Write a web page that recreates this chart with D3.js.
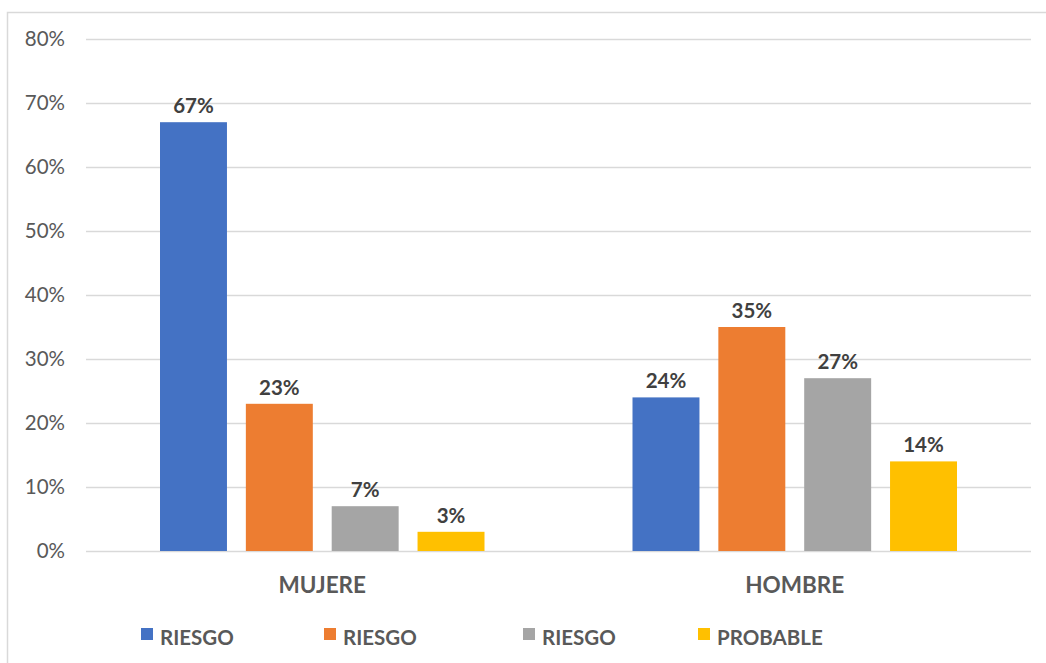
<!DOCTYPE html>
<html>
<head>
<meta charset="utf-8">
<script src="https://cdn.jsdelivr.net/npm/d3@7"></script>
<style>
  body { margin: 0; background: #fff; }
  text { font-family: Lato, "Open Sans", sans-serif; }
</style>
</head>
<body>
<div id="chart"></div>
<script>
// data
const categories = ["MUJERE", "HOMBRE"]
const seriesNames = ["RIESGO", "RIESGO", "RIESGO", "PROBABLE"]
const seriesColors = ["#4472C4", "#ED7D31", "#A5A5A5", "#FFC000"]
const mujereValues = [0.67, 0.23, 0.07, 0.03]
const hombreValues = [0.24, 0.35, 0.27, 0.14]
const yTicks = [0, 0.1, 0.2, 0.3, 0.4, 0.5, 0.6, 0.7, 0.8]

const valuesByCat = [mujereValues, hombreValues]

let W = 1046, H = 663
let margin = { top: 39, right: 15, bottom: 112, left: 86 }
let width = W - margin.left - margin.right,
    height = H - margin.top - margin.bottom

let svg = d3.select("#chart").append("svg")
    .attr("width", W)
    .attr("height", H)

// outer chart border (only top and left show in the picture)
svg.append("rect")
    .attr("x", 7.5)
    .attr("y", 12.5)
    .attr("width", W + 10)
    .attr("height", H + 10)
    .attr("fill", "none")
    .attr("stroke", "#d9d9d9")
    .attr("stroke-width", 1.5)

let g = svg.append("g")
    .attr("transform", "translate(" + margin.left + "," + margin.top + ")")

let x0 = d3.scaleBand()
    .domain(categories)
    .range([0, width])
    .paddingOuter(0)
    .paddingInner(0)

let x1 = d3.scaleBand()
    .domain(d3.range(seriesNames.length))
    .range([74, x0.bandwidth() - 74])
    .paddingInner(0.22)
    .paddingOuter(0)

let y = d3.scaleLinear()
    .domain([0, 0.8])
    .range([height, 0])

// gridlines
g.append("g")
    .selectAll("line")
    .data(yTicks)
    .enter().append("line")
    .attr("x1", 0)
    .attr("x2", width)
    .attr("y1", d => Math.round(y(d)) + 0.5)
    .attr("y2", d => Math.round(y(d)) + 0.5)
    .attr("stroke", "#d9d9d9")
    .attr("stroke-width", 1.5)

// y axis labels
let yAxis = g.append("g")
    .call(d3.axisLeft(y).tickValues(yTicks).tickFormat(d3.format(".0%")).tickSize(0).tickPadding(21))
yAxis.select(".domain").remove()
yAxis.selectAll("text")
    .attr("font-size", 20.5)
    .attr("fill", "#595959")
    .attr("font-family", "Lato, 'Open Sans', sans-serif")

// bars
let groups = g.selectAll(".cat")
    .data(categories)
    .enter().append("g")
    .attr("class", "cat")
    .attr("transform", d => "translate(" + x0(d) + ",0)")

groups.selectAll("rect")
    .data((d, i) => valuesByCat[i].map((v, j) => ({ v: v, j: j })))
    .enter().append("rect")
    .attr("x", d => x1(d.j))
    .attr("width", x1.bandwidth())
    .attr("y", d => y(d.v))
    .attr("height", d => height - y(d.v))
    .attr("fill", d => seriesColors[d.j])

groups.selectAll(".lbl")
    .data((d, i) => valuesByCat[i].map((v, j) => ({ v: v, j: j })))
    .enter().append("text")
    .attr("class", "lbl")
    .attr("x", d => x1(d.j) + x1.bandwidth() / 2)
    .attr("y", d => y(d.v) - 9)
    .attr("text-anchor", "middle")
    .attr("font-size", 20.5)
    .attr("font-weight", "bold")
    .attr("fill", "#404040")
    .text(d => d3.format(".0%")(d.v))

// category labels
let xAxis = g.append("g")
    .attr("transform", "translate(0," + height + ")")
    .call(d3.axisBottom(x0).tickSize(0).tickPadding(26))
xAxis.select(".domain").remove()
xAxis.selectAll("text")
    .attr("font-size", 22.5)
    .attr("font-weight", "bold")
    .attr("fill", "#595959")
    .attr("font-family", "Lato, 'Open Sans', sans-serif")

// legend
const legendX = [141, 324, 523, 698]
let legend = svg.append("g")
    .selectAll("g")
    .data(seriesNames)
    .enter().append("g")
    .attr("transform", (d, i) => "translate(" + legendX[i] + ",628)")
legend.append("rect")
    .attr("width", 12)
    .attr("height", 12)
    .attr("fill", (d, i) => seriesColors[i])
legend.append("text")
    .attr("x", 19)
    .attr("y", 17)
    .attr("font-size", 20.5)
    .attr("font-weight", "bold")
    .attr("fill", "#595959")
    .text(d => d)
</script>
</body>
</html>
